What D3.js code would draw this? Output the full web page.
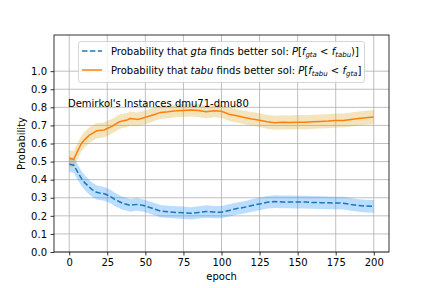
<!DOCTYPE html>
<html><head><meta charset="utf-8">
<script src="https://cdn.jsdelivr.net/npm/d3@7"></script>
<style>
body{margin:0;background:#fff;}
text{font-family:"DejaVu Sans",sans-serif;fill:#000;}
</style></head>
<body><svg id="c" width="432" height="288"></svg>
<script>
const epochs = [0,3,5,8,10,13,15,18,20,23,25,28,30,33,35,38,40,43,45,48,50,55,60,65,70,75,80,85,90,95,100,105,110,115,120,125,130,135,140,145,150,155,160,165,170,175,180,185,190,195,200];
const tabuMean = [0.517,0.512,0.55,0.60,0.62,0.645,0.655,0.67,0.672,0.675,0.683,0.695,0.705,0.72,0.725,0.73,0.738,0.735,0.733,0.74,0.745,0.758,0.772,0.776,0.781,0.783,0.785,0.782,0.776,0.781,0.778,0.762,0.753,0.744,0.736,0.729,0.72,0.715,0.717,0.716,0.718,0.717,0.72,0.722,0.724,0.727,0.727,0.733,0.738,0.742,0.746];
const gtaMean = [0.486,0.48,0.45,0.407,0.385,0.36,0.345,0.33,0.326,0.322,0.315,0.302,0.29,0.278,0.27,0.263,0.258,0.262,0.263,0.258,0.254,0.24,0.226,0.222,0.219,0.217,0.214,0.219,0.224,0.221,0.22,0.23,0.24,0.247,0.257,0.266,0.275,0.279,0.277,0.277,0.276,0.276,0.274,0.273,0.272,0.271,0.27,0.263,0.257,0.254,0.252];
const tabuSpread = [0.045,0.045,0.045,0.044,0.044,0.043,0.043,0.042,0.042,0.041,0.041,0.040,0.040,0.040,0.039,0.039,0.039,0.038,0.038,0.038,0.038,0.037,0.037,0.036,0.036,0.036,0.036,0.036,0.036,0.036,0.036,0.037,0.037,0.037,0.038,0.038,0.038,0.039,0.039,0.039,0.039,0.039,0.039,0.039,0.039,0.039,0.039,0.039,0.039,0.039,0.039];
const gtaSpread = [0.042,0.042,0.042,0.041,0.041,0.040,0.040,0.039,0.039,0.038,0.038,0.037,0.037,0.036,0.036,0.035,0.035,0.035,0.035,0.034,0.034,0.034,0.034,0.034,0.034,0.034,0.034,0.034,0.034,0.034,0.034,0.034,0.034,0.034,0.035,0.035,0.035,0.035,0.035,0.035,0.035,0.035,0.035,0.035,0.035,0.035,0.035,0.035,0.035,0.035,0.035];
const xTicks = [0,25,50,75,100,125,150,175,200];
const yTicks = [0.0,0.1,0.2,0.3,0.4,0.5,0.6,0.7,0.8,0.9,1.0];

const L=54,R=389,T=35,B=252;
const svg=d3.select("#c");
const x=d3.scaleLinear().domain([-10,210]).range([L,R]);
const y=d3.scaleLinear().domain([0,1.2]).range([B,T]);

// grid
const g=svg.append("g");
g.selectAll(".gx").data(xTicks).join("line").attr("x1",d=>x(d)).attr("x2",d=>x(d)).attr("y1",T).attr("y2",B).attr("stroke","#b0b0b0").attr("stroke-width",0.8);
g.selectAll(".gy").data(yTicks).join("line").attr("y1",d=>y(d)).attr("y2",d=>y(d)).attr("x1",L).attr("x2",R).attr("stroke","#b0b0b0").attr("stroke-width",0.8);

const idx=d3.range(epochs.length);
function band(mean,spread,color){
  const area=d3.area().x(i=>x(epochs[i])).y0(i=>y(mean[i]-spread[i])).y1(i=>y(mean[i]+spread[i]));
  svg.append("path").datum(idx).attr("d",area).attr("fill",color).attr("fill-opacity",0.3).attr("stroke","none");
}
band(gtaMean,gtaSpread,"#1e90ff");
band(tabuMean,tabuSpread,"#daa520");

const line=m=>d3.line().x(i=>x(epochs[i])).y(i=>y(m[i]));
svg.append("path").datum(idx).attr("d",line(gtaMean)).attr("fill","none").attr("stroke","#1f77b4").attr("stroke-width",1.5).attr("stroke-dasharray","5.5,2.4");
svg.append("path").datum(idx).attr("d",line(tabuMean)).attr("fill","none").attr("stroke","#ff7f0e").attr("stroke-width",1.5);

// axes
const xa=svg.append("g").attr("transform",`translate(0,${B})`).call(d3.axisBottom(x).tickValues(xTicks).tickFormat(d3.format("d")).tickSizeOuter(0).tickSize(3.5).tickPadding(3.5));
const ya=svg.append("g").attr("transform",`translate(${L},0)`).call(d3.axisLeft(y).tickValues(yTicks).tickFormat(d3.format(".1f")).tickSizeOuter(0).tickSize(3.5).tickPadding(3.5));
[xa,ya].forEach(a=>{a.select(".domain").remove();a.selectAll("text").attr("font-size",10).style("font-family","DejaVu Sans");a.selectAll("line").attr("stroke","#000").attr("stroke-width",0.8);});
svg.append("rect").attr("x",L).attr("y",T).attr("width",R-L).attr("height",B-T).attr("fill","none").attr("stroke","#000").attr("stroke-width",0.8);

svg.append("text").attr("x",(L+R)/2).attr("y",280).attr("text-anchor","middle").attr("font-size",10).text("epoch");
svg.append("text").attr("transform",`translate(25,${(T+B)/2}) rotate(-90)`).attr("text-anchor","middle").attr("font-size",10).text("Probability");

svg.append("text").attr("x",68).attr("y",107).attr("font-size",10).text("Demirkol's Instances dmu71-dmu80");

// legend
const lg=svg.append("g");
lg.append("rect").attr("x",78.5).attr("y",41.5).attr("width",286).attr("height",41).attr("rx",2.5).attr("fill","#fff").attr("fill-opacity",0.8).attr("stroke","#cccccc").attr("stroke-width",0.8);
lg.append("line").attr("x1",82).attr("x2",102).attr("y1",51).attr("y2",51).attr("stroke","#1f77b4").attr("stroke-width",1.5).attr("stroke-dasharray","5.5,2.4");
lg.append("line").attr("x1",82).attr("x2",102).attr("y1",70).attr("y2",70).attr("stroke","#ff7f0e").attr("stroke-width",1.5);
function entry(yy,parts){
  const t=lg.append("text").attr("x",111).attr("y",yy).attr("font-size",10);
  parts.forEach(p=>{
    const s=t.append("tspan").text(p.t);
    if(p.i) s.attr("font-style","italic");
    if(p.sub){s.attr("font-size",7).attr("dy",2).attr("font-style","italic");}
    if(p.up){s.attr("dy",-2);}
  });
}
entry(55,[{t:"Probability that "},{t:"gta",i:1},{t:" finds better sol: "},{t:"P",i:1},{t:"["},{t:"f",i:1},{t:"gta",sub:1},{t:" < ",up:1},{t:"f",i:1},{t:"tabu",sub:1},{t:")]",up:1}]);
entry(74,[{t:"Probability that "},{t:"tabu",i:1},{t:" finds better sol: "},{t:"P",i:1},{t:"["},{t:"f",i:1},{t:"tabu",sub:1},{t:" < ",up:1},{t:"f",i:1},{t:"gta",sub:1},{t:"]",up:1}]);
</script></body></html>
